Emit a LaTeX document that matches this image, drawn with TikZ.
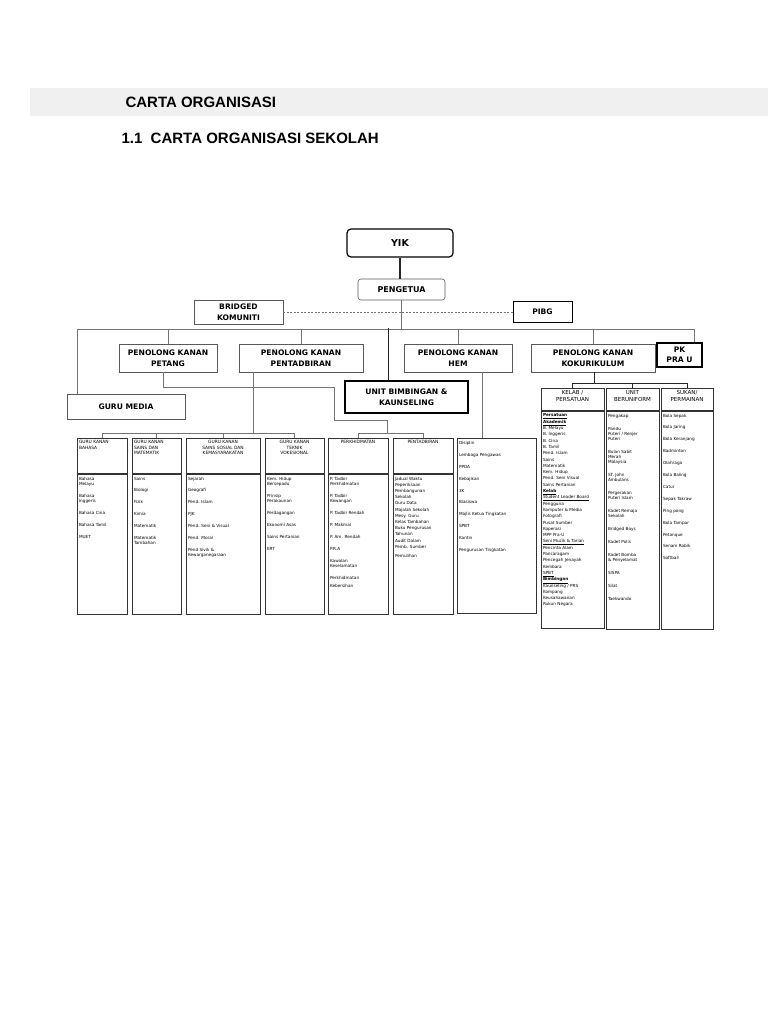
\documentclass[tikz,border=0pt]{standalone}
\usepackage{fontspec}
\setmainfont{DejaVu Sans}
\newfontfamily\headfont{Liberation Sans}
\usetikzlibrary{positioning}
\newcommand{\cellbox}[3]{\parbox[t][#2][t]{#1}{\raggedright #3}}
\newcommand{\itemgap}{\\[6.5pt]}

\begin{document}
\begin{tikzpicture}[x=1pt, y=-1pt,
office/.style={rectangle, draw=black!65, line width=0.6pt, align=center, inner sep=0pt, font=\bfseries\fontsize{7.6}{10.5}\selectfont},
strong/.style={office, draw=black, line width=1.1pt},
colhead/.style={rectangle, draw=black!80, line width=0.6pt, anchor=north, inner xsep=2pt, inner ysep=2pt, font=\fontsize{4.4}{5.6}\selectfont},
colbody/.style={colhead, inner ysep=3pt, font=\fontsize{4.2}{5.4}\selectfont},
link/.style={draw=black!55, line width=0.7pt},
heavylink/.style={draw=black!85, line width=1.4pt},
kokulink/.style={draw=black!85, line width=1pt}
]
\useasboundingbox (0,0) rectangle (768,1024);
\fill[white] (0,0) rectangle (768,1024);

% page heading
\fill[black!6] (30,88) rectangle (768,116);
\node[anchor=west, font=\headfont\bfseries\fontsize{15}{18}\selectfont] (title) at (122,102) {CARTA ORGANISASI};
\node[anchor=west, font=\headfont\bfseries\fontsize{15}{18}\selectfont] (subtitle) at (118,138) {1.1\ \ CARTA ORGANISASI SEKOLAH};

% top of the chart
\node[office, rounded corners=4pt, draw=black, line width=1.2pt, minimum width=106pt, minimum height=28pt, font=\bfseries\fontsize{9.5}{11}\selectfont] (yik) at (400,243) {YIK};
\node[office, rounded corners=3pt, minimum width=87pt, minimum height=21pt, font=\bfseries\fontsize{8}{10}\selectfont] (pengetua) at (401.5,289.5) {PENGETUA};
\node[office, minimum width=89pt, minimum height=24pt] (bridged) at (238.5,312) {BRIDGED\\KOMUNITI};
\node[office, draw=black, line width=0.9pt, minimum width=59pt, minimum height=21pt] (pibg) at (542.5,312) {PIBG};

\node[office, minimum width=98pt, minimum height=28pt] (pkpetang) at (168,358) {PENOLONG KANAN\\PETANG};
\node[office, minimum width=124pt, minimum height=28pt] (pkpentadbiran) at (301,358) {PENOLONG KANAN\\PENTADBIRAN};
\node[office, minimum width=108pt, minimum height=28pt] (pkhem) at (458,358) {PENOLONG KANAN\\HEM};
\node[office, minimum width=124pt, minimum height=28pt] (pkkoku) at (593,358) {PENOLONG KANAN\\KOKURIKULUM};
\node[strong, minimum width=45pt, minimum height=24pt] (pkprau) at (679.5,355) {PK\\PRA U};
\node[office, minimum width=118pt, minimum height=25pt] (gurumedia) at (126,406.5) {GURU MEDIA};
\node[strong, minimum width=123pt, minimum height=32pt] (ubk) at (406.5,397) {UNIT BIMBINGAN \&\\KAUNSELING};

% subject columns
\node[colhead] (bahasa) at (102,438) {\cellbox{46pt}{31pt}{GURU KANAN\\BAHASA}};
\node[colbody] (bahasalist) at (bahasa.south) {\cellbox{46pt}{134pt}{Bahasa\\Melayu\itemgap Bahasa\\Inggeris\itemgap Bahasa Cina\itemgap Bahasa Tamil\itemgap MUET}};
\node[colhead] (sainsmat) at (156.5,438) {\cellbox{45pt}{31pt}{GURU KANAN\\SAINS DAN\\MATEMATIK}};
\node[colbody] (sainsmatlist) at (sainsmat.south) {\cellbox{45pt}{134pt}{Sains\itemgap Biologi\itemgap Fizik\itemgap Kimia\itemgap Matematik\itemgap Matematik\\Tambahan}};
\node[colhead] (sosial) at (223,438) {\cellbox{70pt}{31pt}{\centering GURU KANAN\\SAINS SOSIAL DAN\\KEMASYARAKATAN}};
\node[colbody] (sosiallist) at (sosial.south) {\cellbox{70pt}{134pt}{Sejarah\itemgap Geografi\itemgap Pend. Islam\itemgap PJK\itemgap Pend. Seni \& Visual\itemgap Pend. Moral\itemgap Pend Sivik \&\\Kewarganegaraan}};
\node[colhead] (vokasional) at (294.5,438) {\cellbox{55pt}{31pt}{\centering GURU KANAN\\TEKNIK\\VOKESIONAL}};
\node[colbody] (vokasionallist) at (vokasional.south) {\cellbox{55pt}{134pt}{Kem. Hidup\\Bersepadu\itemgap Prinsip\\Perakaunan\itemgap Perdagangan\itemgap Ekonomi Asas\itemgap Sains Pertanian\itemgap ERT}};
\node[colhead] (perkhidmatan) at (358,438) {\cellbox{56pt}{31pt}{\centering PERKHIDMATAN}};
\node[colbody] (perkhidmatanlist) at (perkhidmatan.south) {\cellbox{56pt}{134pt}{P. Tadbir\\Perkhidmatan\itemgap P. Tadbir\\Kewangan\itemgap P. Tadbir Rendah\itemgap P. Makmal\itemgap P. Am. Rendah\itemgap P.R.A\itemgap Kawalan\\Keselamatan\itemgap Perkhidmatan\\[3pt]Kebersihan}};
\node[colhead] (pentadbiran) at (423,438) {\cellbox{56pt}{31pt}{\centering PENTADBIRAN}};
\node[colbody, font=\fontsize{4.2}{6.2}\selectfont] (pentadbiranlist) at (pentadbiran.south) {\cellbox{56pt}{134pt}{Jadual Waktu\\Peperiksaan\\Pembangunan\\Sekolah\\Guru Data\\Majalah Sekolah\\Mesy. Guru\\Kelas Tambahan\\Buku Pengurusan\\Tahunan\\Audit Dalam\\Pemb. Sumber\\[3pt]Pemulihan}};
\node[colbody] (hemlist) at (496.5,438) {\cellbox{75pt}{169pt}{Disiplin\itemgap Lembaga Pengawas\itemgap PPDA\itemgap Kebajikan\itemgap 3K\itemgap Biasiswa\itemgap Majlis Ketua Tingkatan\itemgap SPBT\itemgap Kantin\itemgap Pengurusan Tingkatan}};

% co-curriculum columns
\node[colhead, font=\fontsize{5.5}{7}\selectfont] (kelab) at (572.5,388) {\cellbox{59pt}{18pt}{\centering KELAB /\\PERSATUAN}};
\node[colbody, font=\fontsize{4.2}{6.3}\selectfont] (kelablist) at (kelab.south) {\cellbox{59pt}{211pt}{\textbf{\underline{Persatuan}}\\\textbf{\underline{Akademik}}\\B. Melayu\\B. Inggeris\\B. Cina\\B. Tamil\\Pend. Islam\\Sains\\Matematik\\Kem. Hidup\\Pend. Seni Visual\\Sains Pertanian\\\textbf{\underline{Kelab}}\\\underline{Student Leader Board}\\Pengguna\\Komputer \& Media\\Fotografi\\Pusat Sumber\\Koperasi\\MPP Pra-U\\\underline{Seni Muzik \& Tarian}\\Pencinta Alam\\Pancaragam\\Pencegah Jenayah\\Kembara\\\underline{SPBT}\\\textbf{\underline{Bimbingan}}\\Kaunseling / PRS\\Kompang\\Keusahawanan\\Rukun Negara}};
\node[colhead, font=\fontsize{5.5}{7}\selectfont] (beruniform) at (632.5,388) {\cellbox{49pt}{18pt}{\centering UNIT\\BERUNIFORM}};
\node[colbody, font=\fontsize{4.2}{5}\selectfont] (beruniformlist) at (beruniform.south) {\cellbox{49pt}{212pt}{Pengakap\\[8pt]Pandu\\Puteri / Renjer\\Puteri\\[8pt]Bulan Sabit\\Merah\\Malaysia\\[8pt]ST. John\\Ambulans\\[8pt]Pergerakan\\Puteri Islam\\[8pt]Kadet Remaja\\Sekolah\\[8pt]Bridged Boys\\[8pt]Kadet Polis\\[8pt]Kadet Bomba\\\& Penyelamat\\[8pt]SISPA\\[8pt]Silat\\[8pt]Taekwando}};
\node[colhead, font=\fontsize{5.5}{7}\selectfont] (sukan) at (687,388) {\cellbox{48pt}{18pt}{\centering SUKAN/\\PERMAINAN}};
\node[colbody] (sukanlist) at (sukan.south) {\cellbox{48pt}{212pt}{Bola Sepak\itemgap Bola Jaring\itemgap Bola Keranjang\itemgap Badminton\itemgap Olahraga\itemgap Bola Baling\itemgap Catur\itemgap Sepak Takraw\itemgap Ping pong\itemgap Bola Tampar\itemgap Petanque\itemgap Senam Robik\itemgap Softball}};

% connectors
\coordinate (busL) at (77,329);
\coordinate (busR) at (694,329);
\coordinate (bendA) at (334,387);
\coordinate (bendB) at (387,420);
\draw[heavylink, line width=1.1pt] (yik.south) -- (yik.south |- pengetua.north);
\draw[link] (pengetua.south) -- (pengetua.south |- busL);
\draw[link, dash pattern=on 2pt off 1.5pt] (bridged.east) -- (bridged.east -| pibg.west);
\draw[link] (busL) -- (busR);
\draw[link] (busL) -- (busL |- gurumedia.north);
\draw[link] (pkpetang.north |- busL) -- (pkpetang.north);
\draw[link] (pkpentadbiran.north |- busL) -- (pkpentadbiran.north);
\draw[link] (pkhem.north |- busL) -- (pkhem.north);
\draw[link] (pkkoku.north |- busL) -- (pkkoku.north);
\draw[link] (busR) -- (busR |- pkprau.north);
\draw[heavylink] ([xshift=-18pt]ubk.north) -- ++(0,-52);

\draw[link] ([xshift=-48pt]pkpentadbiran.south) -- ++(0,61);
\draw[link] (bahasa.north) -- ++(0,-5) -| (vokasional.north);
\draw[link] (sainsmat.north) -- ++(0,-5);
\draw[link] (sosial.north) -- ++(0,-5);

\draw[link] ([xshift=-5pt]pkpetang.south) |- (bendA) |- (bendB) -- ++(0,13);
\draw[link] (perkhidmatan.north) -- ++(0,-5) -| (pentadbiran.north);

\draw[link] ([xshift=24pt]pkhem.south) -- ++(0,66);

\draw[kokulink] ([xshift=1pt]pkkoku.south) -- ++(0,11);
\draw[kokulink] (kelab.north) -- ++(0,-5) -| (sukan.north);
\draw[kokulink] (beruniform.north) -- ++(0,-5);
\end{tikzpicture}
\end{document}
